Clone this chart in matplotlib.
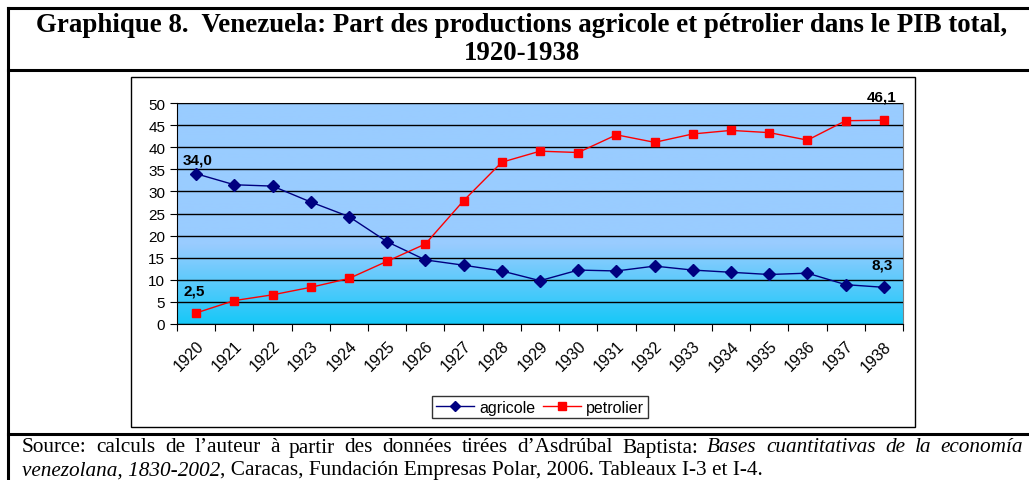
import matplotlib
matplotlib.use("Agg")
import matplotlib.pyplot as plt
import numpy as np
from matplotlib.colors import LinearSegmentedColormap
from matplotlib.lines import Line2D

W, H = 1029, 481

years = [str(y) for y in range(1920, 1939)]
agricole = [34.0, 31.5, 31.2, 27.6, 24.3, 18.6, 14.5, 13.3, 12.0, 9.8,
            12.2, 12.0, 13.1, 12.2, 11.7, 11.2, 11.5, 8.9, 8.3]
petrolier = [2.5, 5.3, 6.6, 8.3, 10.3, 14.2, 18.1, 27.9, 36.6, 39.1,
             38.8, 42.8, 41.1, 43.0, 43.8, 43.3, 41.6, 46.0, 46.1]
yticks = [0, 5, 10, 15, 20, 25, 30, 35, 40, 45, 50]

title1 = "Graphique 8.  Venezuela: Part des productions agricole et pétrolier dans le PIB total,"
title2 = "1920-1938"


def fx(x):
    return x / W


def fy(y):
    return 1 - y / H


fig = plt.figure(figsize=(W / 100, H / 100), dpi=100)
fig.patch.set_facecolor("white")

# table frame
for xs, ys, lw in [([8, 8], [9, H], 2.2), ([8, W], [9, 9], 2.2),
                   ([8, W], [71, 71], 2.2), ([8, W], [435, 435], 2.2)]:
    fig.add_artist(Line2D([fx(v) for v in xs], [fy(v) for v in ys], color="black", lw=lw))

# inner chart box
fig.add_artist(plt.Rectangle((fx(131), fy(428)), fx(915) - fx(131), fy(78) - fy(428),
                             fill=False, edgecolor="black", lw=1.0))

tkw = dict(ha="center", va="center", family="Liberation Serif", weight="bold", fontsize=19.4)
fig.text(fx(522), fy(26), title1, **tkw)
fig.text(fx(522), fy(54), title2, **tkw)

ax = fig.add_axes([fx(177), fy(325), fx(903) - fx(177), fy(104) - fy(325)])
n = len(years)
x = np.arange(n)

# background gradient
grad = np.linspace(0, 50, 300).reshape(-1, 1)
cmap = LinearSegmentedColormap.from_list(
    "bg", [(0, "#18c8f8"), (0.36, "#99ccff"), (1, "#99ccff")])
ax.imshow(grad, extent=[-0.5, n - 0.5, 0, 50], origin="lower", aspect="auto",
          cmap=cmap, zorder=0)

ax.set_xlim(-0.5, n - 0.5)
ax.set_ylim(0, 50)
ax.set_yticks(yticks)
ax.yaxis.grid(True, color="black", lw=1.0, zorder=1)
ax.set_axisbelow(False)

ax.plot(x, agricole, color="#000080", marker="D", ms=6, lw=1.0, label="agricole", zorder=3)
ax.plot(x, petrolier, color="#ff0000", marker="s", ms=6, lw=1.0, label="petrolier", zorder=3)

for sp in ["top", "right"]:
    ax.spines[sp].set_color("#808080")
for sp in ["left", "bottom"]:
    ax.spines[sp].set_color("black")

ax.set_xticks(np.arange(-0.5, n, 1.0))
ax.set_xticklabels([])
ax.set_xticks(x, minor=True)
ax.set_xticklabels(years, minor=True, rotation=45, ha="right", va="top",
                   rotation_mode="anchor", family="Liberation Sans", fontsize=11.5)
ax.tick_params(axis="x", which="minor", length=0, pad=10)
ax.tick_params(axis="x", which="major", length=5, direction="out")
ax.tick_params(axis="y", length=5, direction="out", labelsize=11)
for lab in ax.get_yticklabels():
    lab.set_family("Liberation Sans")

lbl = dict(family="Liberation Sans", weight="bold", fontsize=11)
ax.annotate("34,0", (0, agricole[0]), xytext=(-13, 10), textcoords="offset pixels", **lbl)
ax.annotate("2,5", (0, petrolier[0]), xytext=(-13, 18), textcoords="offset pixels", **lbl)
ax.annotate("46,1", (n - 1, petrolier[-1]), xytext=(-17, 20), textcoords="offset pixels", **lbl)
ax.annotate("8,3", (n - 1, agricole[-1]), xytext=(-12, 19), textcoords="offset pixels", **lbl)

leg = fig.legend(loc="center", bbox_to_anchor=(fx(540), fy(408)), ncol=2,
                 prop={"family": "Liberation Sans", "size": 11.5}, frameon=True,
                 fancybox=False, edgecolor="black", handlelength=2.4, handletextpad=0.3,
                 columnspacing=0.5, borderpad=0.25, markerscale=0.9)
leg.get_frame().set_linewidth(1.0)

# source note, first line justified
renderer = fig.canvas.get_renderer()
words1 = [(w, "normal") for w in "Source: calculs de l’auteur à partir des données tirées d’Asdrúbal Baptista:".split()]
words1 += [(w, "italic") for w in "Bases cuantitativas de la economía".split()]
src = dict(family="Liberation Serif", fontsize=15.3)
texts = [fig.text(0, fy(448), w, style=s, va="center", ha="left", **src) for w, s in words1]
widths = [t.get_window_extent(renderer).width for t in texts]
left, right = 22, 1023
gap = (right - left - sum(widths)) / (len(texts) - 1)
pos = left
for t, w in zip(texts, widths):
    t.set_x(fx(pos))
    pos += w + gap

t1 = fig.text(fx(22), fy(471), "venezolana, 1830-2002", style="italic", va="center", ha="left", **src)
w1 = t1.get_window_extent(renderer).width
fig.text(fx(22 + w1), fy(471), ", Caracas, Fundación Empresas Polar, 2006. Tableaux I-3 et I-4.",
         va="center", ha="left", **src)

fig.savefig("out.png", dpi=100)
